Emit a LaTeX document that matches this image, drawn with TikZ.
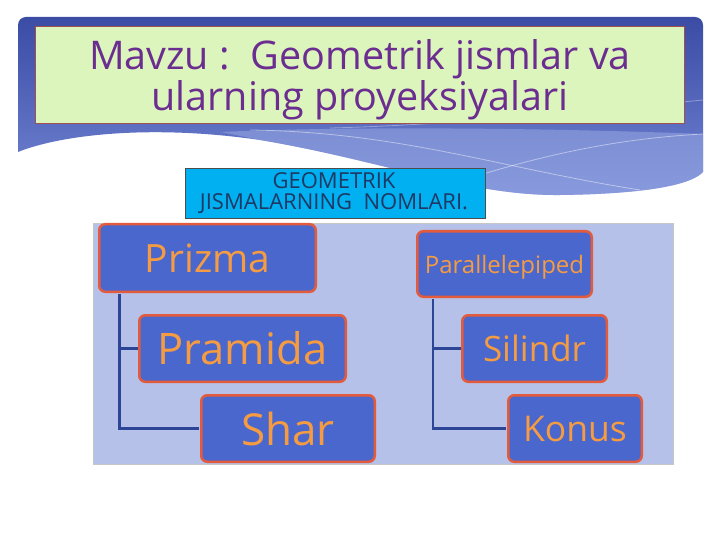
\documentclass[tikz,border=0pt]{standalone}
\usepackage{fontspec}
\setmainfont{Open Sans}
\definecolor{boxblue}{HTML}{4A67CD}
\definecolor{boxred}{HTML}{E35B3D}
\definecolor{boxorange}{HTML}{F59B42}
\definecolor{connblue}{HTML}{2D4596}
\definecolor{lav}{HTML}{B5C1E8}
\definecolor{cyanfill}{HTML}{00B0F0}
\definecolor{navytext}{HTML}{1F3864}
\definecolor{titlegreen}{HTML}{DCF5BC}
\definecolor{titleborder}{HTML}{A0504F}
\definecolor{titlepurple}{HTML}{6B2D8F}
\definecolor{wavetop}{HTML}{3A4CA4}
\definecolor{wavebot}{HTML}{7385D4}
\definecolor{waveband}{HTML}{9DAEE6}
\frenchspacing
\begin{document}
\begin{tikzpicture}[x=1pt,y=-1pt,
  box/.style={draw=boxred, line width=2.5pt, fill=boxblue, rounded corners=6pt,
    text=boxorange, inner sep=0pt},
  conn/.style={draw=connblue, line width=2.5pt, shorten >=1.25pt, shorten <=1.25pt}]
\useasboundingbox (0,0) rectangle (720,540);
\fill[white] (0,0) rectangle (720,540);
% wave banner
\shade[top color=wavetop, bottom color=wavebot]
  (18,152) [rounded corners=8pt] -- (18,17) -- (703,17) [sharp corners] -- (703,172)
  .. controls (690,186) and (640,194) .. (560,195)
  .. controls (470,196) and (380,160) .. (260,140)
  .. controls (150,124) and (60,135) .. (18,152) -- cycle;
\fill[waveband, opacity=0.5]
  (220,132) .. controls (350,126) and (550,128) .. (703,134) -- (703,172)
  .. controls (690,186) and (640,194) .. (560,195)
  .. controls (470,196) and (380,160) .. (260,140)
  .. controls (245,137) and (232,134) .. (220,132) -- cycle;
\draw[white, opacity=0.45, line width=0.8pt]
  (250,130) .. controls (400,132) and (500,168) .. (640,190);
\draw[white, opacity=0.45, line width=0.8pt]
  (470,178) .. controls (560,150) and (630,138) .. (703,134);
\draw[white, opacity=0.35, line width=0.8pt]
  (330,128) .. controls (450,125) and (580,112) .. (703,100);
% title
\node (title) [draw=titleborder, line width=1pt, fill=titlegreen,
  minimum width=649, minimum height=97, inner sep=0pt] at (360,75.5) {};
\node (titletext) [anchor=north, align=center, inner sep=0pt,
  font=\fontsize{39.5}{39}\selectfont, text=titlepurple] at (360,39.5)
  {Mavzu :\ \ Geometrik jismlar va\\ularning proyeksiyalari};
% header
\node (hdr) [draw=gray!60!black, line width=0.6pt, fill=cyanfill,
  minimum width=300, minimum height=50, inner sep=0pt] at (335,193) {};
\node (hdrtext) [anchor=north, align=center, inner sep=0pt,
  font=\fontsize{22}{21}\selectfont, text=navytext] at (334,172.5)
  {GEOMETRIK\\JISMALARNING\ \ NOMLARI.};
% panel
\node (panel) [draw=gray!45, line width=0.6pt, fill=lav, minimum width=580,
  minimum height=241, inner sep=0pt, anchor=north west] at (93,223) {};
% boxes
\node (prizma) [box, minimum width=216.5, minimum height=67.5,
  font=\fontsize{39}{40}\selectfont] at (207.5,258) {Prizma};
\node (pramida) [box, minimum width=206.5, minimum height=66.5,
  font=\fontsize{43.5}{45}\selectfont] at (242.5,348.5) {Pramida};
\node (shar) [box, minimum width=173.5, minimum height=66.5,
  font=\fontsize{44}{45}\selectfont] at (288,428.5) {Shar};
\node (par) [box, minimum width=174.5, minimum height=65.5, text depth=0pt,
  font=\fontsize{24}{26}\selectfont] at (504.5,264) {Parallelepiped};
\node (silindr) [box, minimum width=144.5, minimum height=66.5,
  font=\fontsize{35}{38}\selectfont] at (534.5,348.5) {Silindr};
\node (konus) [box, minimum width=133.5, minimum height=66.5,
  font=\fontsize{35.5}{38}\selectfont] at (575,428.5) {Konus};
% connectors
\draw[conn] ([xshift=21.5pt]prizma.south west) |- (shar.west);
\draw[conn, shorten <=0pt] (pramida.west) -- ++(-19.5,0);
\draw[conn] ([xshift=16.75pt]par.south west) |- (konus.west);
\draw[conn, shorten <=0pt] (silindr.west) -- ++(-29.5,0);
\end{tikzpicture}
\end{document}
